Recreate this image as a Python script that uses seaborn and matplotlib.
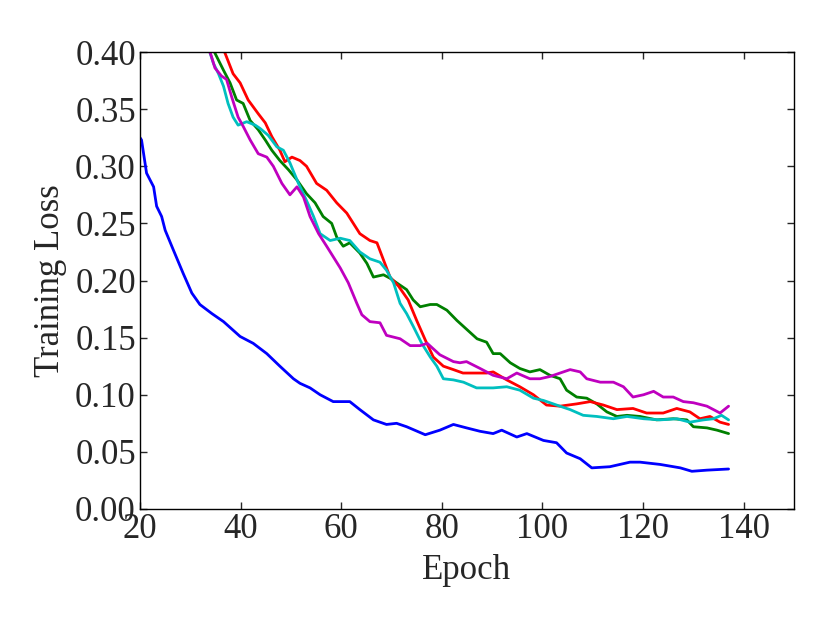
import matplotlib
matplotlib.use("Agg")
import matplotlib.pyplot as plt
import numpy as np
import pandas as pd
import seaborn as sns
from matplotlib.ticker import FormatStrFormatter

# values
blue_epoch = [20.0, 20.3, 21.3, 22.7, 23.3, 24.3, 25.0, 26.6, 28.6, 30.3, 31.9, 34.3, 36.6, 39.9,
              42.5, 45.2, 47.8, 50.5, 51.8, 53.8, 55.8, 58.4, 61.7, 63.7, 66.4, 69.0, 71.0, 73.0,
              76.7, 79.6, 82.3, 84.9, 87.6, 90.2, 91.9, 94.9, 96.9, 100.2, 102.8, 104.8, 107.5,
              109.8, 113.4, 117.4, 119.4, 123.4, 127.4, 129.7, 132.7, 137.0]
blue_loss = [0.325, 0.323, 0.294, 0.282, 0.265, 0.256, 0.244, 0.227, 0.206, 0.189, 0.179, 0.171,
             0.164, 0.151, 0.145, 0.136, 0.125, 0.114, 0.110, 0.106, 0.100, 0.094, 0.094, 0.087,
             0.078, 0.074, 0.075, 0.072, 0.065, 0.069, 0.074, 0.071, 0.068, 0.066, 0.069, 0.063,
             0.066, 0.060, 0.058, 0.049, 0.044, 0.036, 0.037, 0.041, 0.041, 0.039, 0.036, 0.033,
             0.034, 0.035]

green_epoch = [33.5, 34.9, 36.6, 37.9, 39.2, 40.5, 41.9, 43.5, 44.9, 46.2, 47.8, 49.5, 51.2, 53.1,
               54.8, 56.4, 58.1, 59.1, 60.4, 61.7, 63.7, 65.1, 66.4, 68.4, 69.7, 71.0, 73.0, 74.3,
               75.7, 77.7, 79.0, 81.0, 83.0, 85.0, 87.0, 88.9, 90.2, 91.6, 93.6, 95.5, 97.5, 99.5,
               101.5, 103.5, 104.8, 106.8, 108.8, 110.8, 112.8, 114.8, 116.8, 119.4, 122.7, 126.0,
               128.7, 130.0, 132.7, 134.7, 137.0]
green_loss = [0.415, 0.399, 0.384, 0.373, 0.358, 0.355, 0.340, 0.332, 0.323, 0.314, 0.305, 0.297,
              0.288, 0.276, 0.268, 0.256, 0.250, 0.238, 0.230, 0.233, 0.224, 0.215, 0.203, 0.205,
              0.202, 0.198, 0.192, 0.183, 0.177, 0.179, 0.179, 0.174, 0.165, 0.157, 0.149, 0.146,
              0.136, 0.136, 0.128, 0.123, 0.120, 0.122, 0.117, 0.114, 0.104, 0.098, 0.097, 0.092,
              0.085, 0.081, 0.082, 0.081, 0.078, 0.079, 0.078, 0.072, 0.071, 0.069, 0.066]

red_epoch = [35.5, 36.9, 38.5, 39.9, 41.5, 43.5, 44.9, 46.2, 47.8, 48.8, 50.2, 51.8, 53.1, 55.1,
             57.1, 59.1, 61.1, 62.4, 63.7, 65.7, 67.1, 68.4, 69.7, 71.4, 73.3, 75.0, 76.7, 78.3,
             80.3, 82.3, 84.2, 86.2, 88.9, 90.2, 92.9, 95.5, 98.2, 100.8, 103.5, 106.8, 109.5,
             112.1, 114.8, 118.0, 120.7, 124.0, 126.7, 129.3, 131.3, 133.3, 135.3, 137.0]
red_loss = [0.415, 0.399, 0.381, 0.373, 0.358, 0.346, 0.338, 0.326, 0.314, 0.304, 0.308, 0.305,
            0.300, 0.285, 0.279, 0.268, 0.259, 0.250, 0.241, 0.235, 0.233, 0.218, 0.203, 0.195,
            0.183, 0.165, 0.148, 0.133, 0.125, 0.122, 0.119, 0.119, 0.119, 0.120, 0.113, 0.107,
            0.100, 0.091, 0.090, 0.092, 0.094, 0.091, 0.087, 0.088, 0.084, 0.084, 0.088, 0.085,
            0.079, 0.081, 0.076, 0.074]

cyan_epoch = [33.5, 34.6, 35.6, 36.6, 37.5, 38.5, 39.5, 41.2, 42.9, 43.9, 45.5, 47.2, 48.5, 49.8,
              51.5, 53.1, 54.5, 55.8, 57.8, 59.8, 61.7, 63.7, 65.7, 67.7, 69.0, 70.4, 71.7, 73.0,
              74.3, 76.0, 77.7, 79.0, 80.3, 82.3, 84.3, 86.9, 88.9, 90.2, 92.9, 95.5, 98.2, 100.2,
              102.8, 105.5, 108.1, 110.8, 114.1, 116.8, 120.1, 123.4, 126.7, 129.3, 132.0, 134.0,
              135.6, 137.0]
cyan_loss = [0.405, 0.390, 0.381, 0.370, 0.355, 0.343, 0.336, 0.339, 0.336, 0.333, 0.327, 0.317,
             0.314, 0.303, 0.285, 0.270, 0.256, 0.241, 0.235, 0.237, 0.235, 0.225, 0.219, 0.216,
             0.209, 0.198, 0.180, 0.171, 0.160, 0.145, 0.133, 0.125, 0.114, 0.113, 0.111, 0.106,
             0.106, 0.106, 0.107, 0.104, 0.097, 0.095, 0.091, 0.087, 0.082, 0.081, 0.079, 0.081,
             0.079, 0.078, 0.079, 0.076, 0.078, 0.079, 0.082, 0.078]

magenta_epoch = [33.5, 34.2, 34.9, 36.2, 37.2, 38.2, 39.5, 40.5, 41.9, 43.5, 45.2, 46.5, 48.2, 49.8,
                 51.2, 52.5, 53.8, 55.5, 57.1, 59.8, 61.4, 63.1, 64.1, 65.7, 67.7, 69.0, 71.7, 73.7,
                 75.7, 77.1, 79.6, 82.3, 83.6, 84.9, 87.6, 90.2, 92.9, 94.9, 97.5, 99.5, 101.5,
                 103.5, 105.5, 107.5, 108.8, 111.5, 114.1, 116.1, 118.0, 120.1, 122.1, 124.0, 126.0,
                 128.0, 130.0, 132.7, 135.3, 137.0]
magenta_loss = [0.405, 0.396, 0.386, 0.379, 0.376, 0.361, 0.343, 0.335, 0.323, 0.311, 0.308, 0.300,
                0.285, 0.275, 0.282, 0.273, 0.256, 0.241, 0.230, 0.211, 0.198, 0.180, 0.170, 0.164,
                0.163, 0.152, 0.149, 0.143, 0.143, 0.145, 0.135, 0.129, 0.128, 0.129, 0.123, 0.117,
                0.114, 0.119, 0.114, 0.114, 0.116, 0.119, 0.122, 0.120, 0.114, 0.111, 0.111, 0.107,
                0.098, 0.100, 0.103, 0.098, 0.098, 0.094, 0.093, 0.090, 0.084, 0.090]

SERIES = [
    ("blue", blue_epoch, blue_loss),
    ("green", green_epoch, green_loss),
    ("red", red_epoch, red_loss),
    ("cyan", cyan_epoch, cyan_loss),
    ("magenta", magenta_epoch, magenta_loss),
]
COLORS = {"blue": "#0000ff", "green": "#008000", "red": "#ff0000",
          "cyan": "#00bfbf", "magenta": "#bf00bf"}


def main():
    sns.set_style("ticks")
    plt.rcParams["font.family"] = ["Liberation Serif", "DejaVu Serif"]
    plt.rcParams["xtick.direction"] = "in"
    plt.rcParams["ytick.direction"] = "in"

    df = pd.concat(
        [pd.DataFrame({"Epoch": e, "Loss": v, "run": name}) for name, e, v in SERIES],
        ignore_index=True,
    )

    fig = plt.figure(figsize=(8.3, 6.23), dpi=100)
    ax = fig.add_axes([0.1687, 0.183, 0.7879, 0.7335])
    sns.lineplot(data=df, x="Epoch", y="Loss", hue="run", palette=COLORS,
                 estimator=None, sort=False, linewidth=2.0, legend=False, ax=ax)

    ax.set_xlim(20, 150)
    ax.set_ylim(0, 0.40)
    ax.set_xticks(np.arange(20, 141, 20))
    ax.set_yticks(np.arange(0, 0.401, 0.05))
    ax.yaxis.set_major_formatter(FormatStrFormatter("%.2f"))
    ax.tick_params(axis="both", which="major", labelsize=25, length=5, width=1,
                   top=True, right=True, pad=3)
    for sp in ax.spines.values():
        sp.set_linewidth(1.0)
        sp.set_color("black")
    ax.set_xlabel("Epoch", fontsize=25, labelpad=6)
    ax.set_ylabel("Training Loss", fontsize=25, labelpad=6)

    fig.savefig("out.png", dpi=100)
    plt.close(fig)


if __name__ == "__main__":
    main()
